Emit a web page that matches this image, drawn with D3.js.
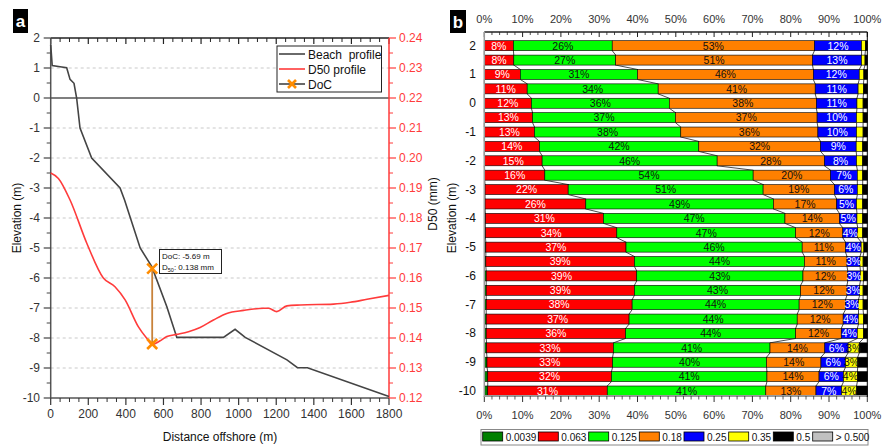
<!DOCTYPE html>
<html><head><meta charset="utf-8">
<script src="https://cdn.jsdelivr.net/npm/d3@7"></script>
<style>body{margin:0;background:#fff}svg{display:block;font-family:"Liberation Sans",Arial,sans-serif}</style>
</head><body><svg id="c" width="883" height="446"></svg>
<script>
// ---------- Panel a data ----------
const beachDist = [0,8,50,85,103,124,138,156,218,369,393,476,538,618,671,919,981,1035,1257,1313,1366,1800];
const beachElev = [1.77,1.08,1.04,1.01,0.62,0.49,0,-1.0,-2.0,-3.0,-3.4,-5.0,-5.62,-6.96,-7.98,-7.98,-7.71,-7.98,-8.73,-8.99,-8.99,-9.95];
const d50Dist = [0,41,103,192,280,342,396,466,511,540,580,618,671,733,795,866,937,1026,1132,1160,1203,1257,1328,1505,1594,1683,1800];
const d50Val  = [0.195,0.1932,0.186,0.1716,0.160,0.1571,0.1527,0.1438,0.1399,0.1378,0.1390,0.1405,0.1412,0.1421,0.1435,0.146,0.1482,0.1492,0.1499,0.1499,0.1488,0.1507,0.1510,0.1513,0.1519,0.1529,0.1542];
const docDist = 540, docElev = -5.69, docD50 = 0.138;
const elevTicks = [2,1,0,-1,-2,-3,-4,-5,-6,-7,-8,-9,-10];
const distTicks = [0,200,400,600,800,1000,1200,1400,1600,1800];
const d50Ticks = [0.12,0.13,0.14,0.15,0.16,0.17,0.18,0.19,0.20,0.21,0.22,0.23,0.24];

// ---------- Panel b data ----------
const rowElev = [2,1.5,1,0.5,0,-0.5,-1,-1.5,-2,-2.5,-3,-3.5,-4,-4.5,-5,-5.5,-6,-6.5,-7,-7.5,-8,-8.5,-9,-9.5,-10];
const classNames = ["0.0039","0.063","0.125","0.18","0.25","0.35","0.5","> 0.500"];
const classColors = ["#008000","#FF0000","#00FF00","#FF8000","#0000FF","#FFFF00","#000000","#C0C0C0"];
const c0039 = [0,0,0,0,0,0,0,0,0,0.1,0.2,0.2,0.3,0.3,0.4,0.4,0.5,0.5,0.5,0.5,0.5,0.6,0.7,0.9,0.9];
const c063  = [7.6,7.7,9.4,11.2,12.3,12.6,13.1,14.4,15.1,15.7,21.7,26.3,30.8,34.3,36.6,38.8,39.3,38.7,38.1,37.3,36.4,33.1,32.8,32.3,31.2];
const c125  = [25.8,26.6,30.6,34.2,36.0,37.3,38.2,41.6,45.7,54.4,50.9,49.0,47.4,46.7,46.0,44.4,43.4,43.4,43.6,43.9,44.4,40.9,40.2,40.6,41.4];
const c18   = [52.8,51.4,45.9,41.0,38.4,37.0,35.8,31.8,28.0,20.2,18.6,16.5,14.2,12.3,11.3,11.1,11.7,12.1,12.1,12.0,11.9,14.3,14.2,13.6,13.1];
const c25   = [12.3,12.8,12.0,11.2,10.6,10.3,10.1,9.3,8.4,7.0,6.0,5.2,4.6,3.9,4.1,3.4,3.3,3.3,3.4,4.0,4.2,6.1,6.4,6.4,6.7];
const c35   = [1.0,0.9,1.2,1.4,1.6,1.7,1.7,1.7,1.6,1.4,1.4,1.6,1.5,1.3,0.7,0.8,0.8,0.9,1.2,1.3,1.6,2.9,3.2,3.6,3.9];
const c5    = [0.5,0.6,0.9,1.0,1.1,1.1,1.1,1.2,1.2,1.2,1.2,1.2,1.2,1.2,0.9,1.1,1.0,1.1,1.1,1.0,1.0,2.1,2.5,2.6,2.8];
const cGt5  = [0,0,0,0,0,0,0,0,0,0,0,0,0,0,0,0,0,0,0,0,0,0,0,0,0];
const pctTicks = [0,10,20,30,40,50,60,70,80,90,100];
const rowTicks = [2,1,0,-1,-2,-3,-4,-5,-6,-7,-8,-9,-10];

const svg = d3.select("#c");
svg.append("rect").attr("width",883).attr("height",446).attr("fill","#fff");
const TXT = "#333";

// ================= Panel a =================
const x = d3.scaleLinear().domain([0,1800]).range([50.7,389]);
const y = d3.scaleLinear().domain([-10,2]).range([398,38]);
const y2 = d3.scaleLinear().domain([0.12,0.24]).range([398,38]);
const a = svg.append("g");

// grid
a.selectAll(".grid").data(elevTicks.filter(v=>v!==0 && v!==2 && v!==-10)).enter().append("line")
  .attr("x1",x(0)).attr("x2",x(1800)).attr("y1",d=>y(d)).attr("y2",d=>y(d))
  .attr("stroke","#bbb").attr("stroke-width",0.8).attr("stroke-dasharray","3,3");
a.append("line").attr("x1",x(0)).attr("x2",x(1800)).attr("y1",y(0)).attr("y2",y(0)).attr("stroke","#000").attr("stroke-width",1.2);

const minorDist = d3.range(0,1801,50).filter(v=>v%200!==0);
const minorElev = d3.range(-10,2.01,0.5).filter(v=>v%1!==0);
const minorD50 = d3.range(0,13).map(i=>0.125+i*0.01).filter(v=>v<0.24);
// bottom
a.append("line").attr("x1",x(0)).attr("x2",x(1800)).attr("y1",y(-10)).attr("y2",y(-10)).attr("stroke","#555").attr("stroke-width",1.5);
a.selectAll(".bt").data(distTicks).enter().append("line").attr("x1",d=>x(d)).attr("x2",d=>x(d)).attr("y1",y(-10)).attr("y2",y(-10)+7).attr("stroke","#333").attr("stroke-width",1.2);
a.selectAll(".btm").data(minorDist).enter().append("line").attr("x1",d=>x(d)).attr("x2",d=>x(d)).attr("y1",y(-10)).attr("y2",y(-10)+4).attr("stroke","#333").attr("stroke-width",1);
a.selectAll(".btl").data(distTicks).enter().append("text").attr("x",d=>x(d)).attr("y",418).attr("text-anchor","middle").attr("font-size",12).attr("fill",TXT).text(d=>d);
// top
a.append("line").attr("x1",x(0)).attr("x2",x(1800)).attr("y1",y(2)).attr("y2",y(2)).attr("stroke","#222").attr("stroke-width",1.5);
a.selectAll(".tt").data(distTicks).enter().append("line").attr("x1",d=>x(d)).attr("x2",d=>x(d)).attr("y1",y(2)).attr("y2",y(2)+6).attr("stroke","#222").attr("stroke-width",1.2);
a.selectAll(".ttm").data(minorDist).enter().append("line").attr("x1",d=>x(d)).attr("x2",d=>x(d)).attr("y1",y(2)).attr("y2",y(2)+4).attr("stroke","#222").attr("stroke-width",1);
// left
a.append("line").attr("x1",x(0)).attr("x2",x(0)).attr("y1",y(2)).attr("y2",y(-10)).attr("stroke","#555").attr("stroke-width",1.5);
a.selectAll(".lt").data(elevTicks).enter().append("line").attr("x1",x(0)-7).attr("x2",x(0)).attr("y1",d=>y(d)).attr("y2",d=>y(d)).attr("stroke","#444").attr("stroke-width",1.2);
a.selectAll(".ltm").data(minorElev).enter().append("line").attr("x1",x(0)-4).attr("x2",x(0)).attr("y1",d=>y(d)).attr("y2",d=>y(d)).attr("stroke","#444").attr("stroke-width",1);
a.selectAll(".ltl").data(elevTicks).enter().append("text").attr("x",40).attr("y",d=>y(d)+4).attr("text-anchor","end").attr("font-size",12).attr("fill",TXT).text(d=>d);
// right (red)
const RED="#FF3B3B";
a.append("line").attr("x1",x(1800)).attr("x2",x(1800)).attr("y1",y(2)).attr("y2",y(-10)).attr("stroke",RED).attr("stroke-width",1.5);
a.selectAll(".rt").data(d50Ticks).enter().append("line").attr("x1",x(1800)).attr("x2",x(1800)+7).attr("y1",d=>y2(d)).attr("y2",d=>y2(d)).attr("stroke",RED).attr("stroke-width",1.2);
a.selectAll(".rtm").data(minorD50).enter().append("line").attr("x1",x(1800)).attr("x2",x(1800)+4).attr("y1",d=>y2(d)).attr("y2",d=>y2(d)).attr("stroke",RED).attr("stroke-width",1);
a.selectAll(".rtl").data(d50Ticks).enter().append("text").attr("x",399).attr("y",d=>y2(d)+4).attr("font-size",12).attr("fill",RED).text(d=>d.toFixed(2));

// titles
a.append("text").attr("x",220).attr("y",441).attr("text-anchor","middle").attr("font-size",12).attr("fill","#111").text("Distance offshore (m)");
a.append("text").attr("transform","translate(21,218) rotate(-90)").attr("text-anchor","middle").attr("font-size",12).attr("fill","#111").text("Elevation (m)");
a.append("text").attr("transform","translate(437,204) rotate(-90)").attr("text-anchor","middle").attr("font-size",12).attr("fill","#111").text("D50 (mm)");

// lines
const beachLine = d3.line().x((d,i)=>x(beachDist[i])).y((d,i)=>y(beachElev[i]));
a.append("path").attr("d",beachLine(beachDist)).attr("fill","none").attr("stroke","#444").attr("stroke-width",1.6);
const d50Line = d3.line().x((d,i)=>x(d50Dist[i])).y((d,i)=>y2(d50Val[i])).curve(d3.curveMonotoneX);
a.append("path").attr("d",d50Line(d50Dist)).attr("fill","none").attr("stroke",RED).attr("stroke-width",1.6);

// DoC
a.append("line").attr("x1",x(docDist)).attr("x2",x(docDist)).attr("y1",y(docElev)).attr("y2",y2(docD50)).attr("stroke","#C8823A").attr("stroke-width",1.8);
function xMark(g,cx,cy,s){
  g.append("path").attr("d",`M${cx-s},${cy-s}L${cx+s},${cy+s}M${cx-s},${cy+s}L${cx+s},${cy-s}`).attr("stroke","#FF8C00").attr("stroke-width",2.6).attr("fill","none");
}
xMark(a,x(docDist),y(docElev),5);
xMark(a,x(docDist),y2(docD50),5);
a.append("rect").attr("x",159.5).attr("y",249.5).attr("width",62).attr("height",24).attr("fill","#fff").attr("stroke","#222").attr("stroke-width",1);
a.append("text").attr("x",162).attr("y",259).attr("font-size",8).attr("fill","#111").text("DoC: -5.69 m");
const t2 = a.append("text").attr("x",162).attr("y",270).attr("font-size",8).attr("fill","#111");
t2.append("tspan").text("D");
t2.append("tspan").attr("font-size",5.5).attr("dy",2).text("50");
t2.append("tspan").attr("dy",-2).text(": 0.138 mm");

// legend a
a.append("rect").attr("x",277).attr("y",46).attr("width",104.5).attr("height",46).attr("fill","#fff").attr("stroke","#222").attr("stroke-width",1);
const legA = [{t:"Beach  profile",c:"#444",m:false},{t:"D50 profile",c:RED,m:false},{t:"DoC",c:"#444",m:true}];
legA.forEach((d,i)=>{
  const yy = 54+i*15;
  a.append("line").attr("x1",279).attr("x2",305).attr("y1",yy).attr("y2",yy).attr("stroke",d.c).attr("stroke-width",1.6);
  if(d.m) xMark(a,292,yy,4);
  a.append("text").attr("x",308).attr("y",yy+4.5).attr("font-size",12).attr("fill","#111").attr("xml:space","preserve").text(d.t);
});
svg.append("rect").attr("x",13).attr("y",9).attr("width",15).attr("height",24).attr("fill","#000");
svg.append("text").attr("x",20.5).attr("y",27).attr("text-anchor","middle").attr("font-size",17).attr("font-weight","bold").attr("fill","#fff").text("a");

// ================= Panel b =================
const xb = d3.scaleLinear().domain([0,100]).range([484.3,867.3]);
const yb = d3.scaleLinear().domain([2,-10]).range([45.7,391]);
const BH = 10;
const b = svg.append("g");
const series = [c0039,c063,c125,c18,c25,c35,c5,cGt5];
const rows = rowElev.map((e,i)=>{
  let cum=0; const segs=[];
  series.forEach((s,k)=>{ segs.push({k,v:s[i],x0:cum,x1:cum+s[i]}); cum+=s[i]; });
  return {e,segs};
});
for(let i=0;i<rows.length-1;i++){
  for(let k=0;k<6;k++){
    const r0=rows[i], r1=rows[i+1];
    b.append("line").attr("x1",xb(r0.segs[k].x1)).attr("y1",yb(r0.e)+BH/2)
     .attr("x2",xb(r1.segs[k].x1)).attr("y2",yb(r1.e)-BH/2).attr("stroke","#000").attr("stroke-width",0.7);
  }
}
const rg = b.selectAll(".row").data(rows).enter().append("g");
rg.selectAll("rect").data(d=>d.segs.filter(s=>s.v>0).map(s=>Object.assign({e:d.e},s))).enter().append("rect")
  .attr("x",d=>xb(d.x0)).attr("width",d=>xb(d.x1)-xb(d.x0)).attr("y",d=>yb(d.e)-BH/2).attr("height",BH)
  .attr("fill",d=>classColors[d.k]).attr("stroke","#000").attr("stroke-width",0.6);
rg.selectAll("text").data(d=>d.segs.filter(s=>s.k>=1&&s.k<=5&&s.v>=2.5).map(s=>Object.assign({e:d.e},s))).enter().append("text")
  .attr("x",d=>xb((d.x0+d.x1)/2)).attr("y",d=>yb(d.e)+3.8).attr("text-anchor","middle").attr("font-size",10.5)
  .attr("fill",d=>(d.k===1||d.k===4)?"#fff":"#111").text(d=>Math.round(d.v)+"%");

const minorPct = d3.range(0,101,2).filter(v=>v%10!==0);
b.append("line").attr("x1",xb(0)).attr("x2",xb(100)).attr("y1",32).attr("y2",32).attr("stroke","#222").attr("stroke-width",1.3);
b.selectAll(".tb").data(pctTicks).enter().append("line").attr("x1",d=>xb(d)).attr("x2",d=>xb(d)).attr("y1",32).attr("y2",37).attr("stroke","#222").attr("stroke-width",1);
b.selectAll(".tbm").data(minorPct).enter().append("line").attr("x1",d=>xb(d)).attr("x2",d=>xb(d)).attr("y1",32).attr("y2",35).attr("stroke","#222").attr("stroke-width",0.8);
b.selectAll(".tbl").data(pctTicks).enter().append("text").attr("x",d=>xb(d)).attr("y",23).attr("text-anchor","middle").attr("font-size",11).attr("fill",TXT).text(d=>d+"%");
b.append("line").attr("x1",xb(0)).attr("x2",xb(100)).attr("y1",396).attr("y2",396).attr("stroke","#999").attr("stroke-width",2);
b.selectAll(".bb").data(pctTicks).enter().append("line").attr("x1",d=>xb(d)).attr("x2",d=>xb(d)).attr("y1",396).attr("y2",402).attr("stroke","#333").attr("stroke-width",1);
b.selectAll(".bbm").data(minorPct).enter().append("line").attr("x1",d=>xb(d)).attr("x2",d=>xb(d)).attr("y1",396).attr("y2",399.5).attr("stroke","#333").attr("stroke-width",0.8);
b.selectAll(".bbl").data(pctTicks).enter().append("text").attr("x",d=>xb(d)).attr("y",419).attr("text-anchor","middle").attr("font-size",11).attr("fill",TXT).text(d=>d+"%");
b.append("line").attr("x1",xb(0)).attr("x2",xb(0)).attr("y1",32).attr("y2",397).attr("stroke","#999").attr("stroke-width",1.5);
b.append("line").attr("x1",xb(100)).attr("x2",xb(100)).attr("y1",32).attr("y2",397).attr("stroke","#000").attr("stroke-width",1);
b.selectAll(".lbl").data(rowTicks).enter().append("text").attr("x",476).attr("y",d=>yb(d)+4).attr("text-anchor","end").attr("font-size",12).attr("fill","#111").text(d=>d);
b.append("text").attr("transform","translate(456,218) rotate(-90)").attr("text-anchor","middle").attr("font-size",12).attr("fill","#111").text("Elevation (m)");

b.append("rect").attr("x",481).attr("y",429.5).attr("width",387).attr("height",15.5).attr("fill","#fff").attr("stroke","#888").attr("stroke-width",1);
const legX = [482.7,538.3,588.7,639.3,684,728.7,773.3,812.7];
classNames.forEach((n,i)=>{
  b.append("rect").attr("x",legX[i]).attr("y",432).attr("width",20).attr("height",9).attr("fill",classColors[i]).attr("stroke","#000").attr("stroke-width",0.8);
  b.append("text").attr("x",legX[i]+23).attr("y",440.5).attr("font-size",10).attr("fill","#111").text(n);
});
svg.append("rect").attr("x",450).attr("y",10).attr("width",16).attr("height",23).attr("fill","#000");
svg.append("text").attr("x",458).attr("y",28).attr("text-anchor","middle").attr("font-size",17).attr("font-weight","bold").attr("fill","#fff").text("b");
</script></body></html>
